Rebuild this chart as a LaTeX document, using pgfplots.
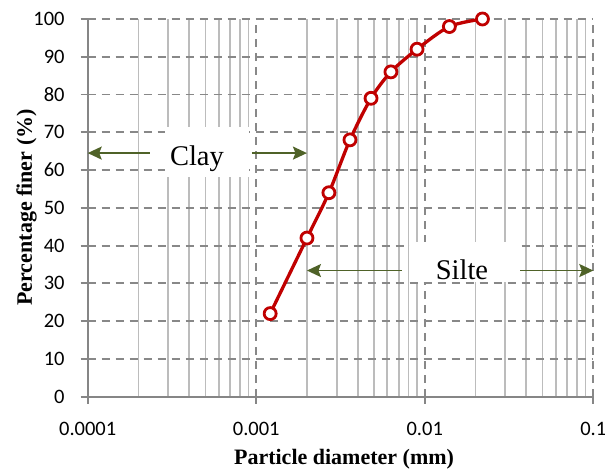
\documentclass[border=0pt]{standalone}
\usepackage{pgfplots}
\pgfplotsset{compat=1.18}
\usepackage{fontspec}
\setmainfont{Liberation Serif}
\newfontfamily\carlito{Carlito}
\usetikzlibrary{arrows.meta}
\definecolor{curvered}{RGB}{192,0,0}
\definecolor{arrowgreen}{RGB}{79,98,40}
\definecolor{majgray}{RGB}{136,136,136}
\definecolor{mingray}{RGB}{188,188,188}
\definecolor{axgray}{RGB}{134,134,134}
\begin{document}
\begin{tikzpicture}
\useasboundingbox (-87.7pt,-73.3pt) rectangle (517.3pt,396.7pt);
\begin{axis}[
  at={(0,0)}, anchor=south west,
  scale only axis, width=505.6pt, height=377.7pt,
  xmode=log, log basis x=10,
  xmin=0.0001, xmax=0.1, ymin=0, ymax=100,
  xtick={0.0001,0.001,0.01,0.1},
  xticklabels={0.0001,0.001,0.01,0.1},
  minor xtick={0.0002,0.0003,0.0004,0.0005,0.0006,0.0007,0.0008,0.0009,0.002,0.003,0.004,0.005,0.006,0.007,0.008,0.009,0.02,0.03,0.04,0.05,0.06,0.07,0.08,0.09},
  ytick={0,10,20,30,40,50,60,70,80,90,100},
  axis x line*=bottom, axis y line*=left,
  axis line style={draw=axgray, line width=1.8pt, -},
  tick align=outside,
  major tick length=7pt, minor tick length=0pt,
  tick style={draw=axgray, line width=1.8pt},
  xmajorgrids, xminorgrids, ymajorgrids,
  major grid style={draw=majgray, line width=1.8pt, dash pattern=on 8pt off 6pt},
  minor grid style={draw=mingray, line width=1.8pt, solid},
  /pgf/number format/assume math mode=true,
  ticklabel style={font=\carlito\fontsize{20.5}{24}\selectfont, text=black},
  xticklabel style={yshift=-14.5pt},
  yticklabel style={xshift=-12.6pt},
  xlabel={Particle diameter (mm)},
  ylabel={Percentage finer (\%)},
  label style={font=\bfseries\fontsize{22}{26}\selectfont},
  xlabel style={at={(axis description cs:0.507,-0.1663)}, anchor=center},
  ylabel style={at={(axis description cs:-0.121,0.501)}, anchor=center},
  clip=false,
]
\fill[white] (axis cs:0.000287,58.2) rectangle (axis cs:0.000905,71.4);
\fill[white] (axis cs:0.00816,30.4) rectangle (axis cs:0.0369,41.0);
\draw[arrowgreen, line width=1.8pt, -{Stealth[length=14pt,width=13pt,inset=2.5pt]}] (axis cs:0.000234,64.5) -- (axis cs:0.0001,64.5);
\draw[arrowgreen, line width=1.8pt, -{Stealth[length=14pt,width=13pt,inset=2.5pt]}] (axis cs:0.000943,64.5) -- (axis cs:0.002,64.5);
\draw[arrowgreen, line width=1.8pt, -{Stealth[length=14pt,width=13pt,inset=2.5pt]}] (axis cs:0.00731,33.4) -- (axis cs:0.002,33.4);
\draw[arrowgreen, line width=1.8pt, -{Stealth[length=14pt,width=13pt,inset=2.5pt]}] (axis cs:0.0369,33.4) -- (axis cs:0.1,33.4);
\node[anchor=base, inner sep=0pt, font=\fontsize{28.5}{30}\selectfont] at (axis cs:0.000445,61.1) {Clay};
\node[anchor=base, inner sep=0pt, font=\fontsize{28.5}{30}\selectfont] at (axis cs:0.01662,30.9) {Silte};
\addplot[curvered, line width=3.3pt, smooth, mark=*, mark size=6pt,
  mark options={fill=white, draw=curvered, line width=2.8pt, solid}]
  coordinates {
  (0.00121,22) (0.002,42) (0.0027,54) (0.0036,68) (0.0048,79)
  (0.0063,86) (0.009,92) (0.014,98) (0.022,100)
  };
\end{axis}
\end{tikzpicture}
\end{document}
